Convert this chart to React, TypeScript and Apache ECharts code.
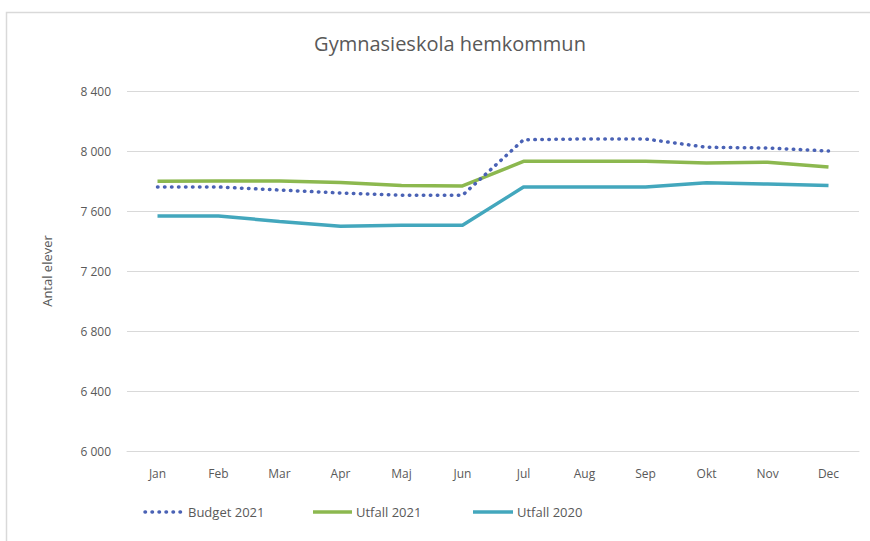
import React, { useEffect, useRef } from "react";
import * as echarts from "echarts";

const months = ["Jan", "Feb", "Mar", "Apr", "Maj", "Jun", "Jul", "Aug", "Sep", "Okt", "Nov", "Dec"];
const budget2021 = [7760, 7760, 7740, 7720, 7705, 7705, 8075, 8080, 8080, 8025, 8020, 8000];
const utfall2021 = [7798, 7800, 7800, 7790, 7770, 7767, 7931, 7931, 7931, 7920, 7925, 7893];
const utfall2020 = [7567, 7567, 7530, 7498, 7505, 7505, 7760, 7760, 7760, 7789, 7780, 7770];
const seriesNames = ["Budget 2021", "Utfall 2021", "Utfall 2020"];

const FONT = "'Open Sans', 'Noto Sans', sans-serif";
const C_BUDGET = "#4a62b5";
const C_U21 = "#8cb84f";
const C_U20 = "#43a7bd";
const DOT: number[] = [0.5, 6.5];

function fmt(v: number): string {
  const s = String(Math.round(v));
  return s.replace(/\B(?=(\d{3})+(?!\d))/g, " ");
}

function legendItem(x0: number, x1: number, y: number, color: string, dash: number[] | null, label: string) {
  return [
    {
      type: "line",
      shape: { x1: x0, y1: y, x2: x1, y2: y },
      style: dash
        ? { stroke: color, lineWidth: 3.5, lineDash: dash, lineCap: "round" }
        : { stroke: color, lineWidth: 3.5 },
      silent: true,
    },
    {
      type: "text",
      x: x1 + 4,
      y: y,
      style: {
        text: label,
        fill: "#595959",
        font: `13px ${FONT}`,
        textVerticalAlign: "middle",
        verticalAlign: "middle",
      },
      silent: true,
    },
  ];
}

export default function App() {
  const ref = useRef<HTMLDivElement>(null);
  useEffect(() => {
    document.body.style.margin = "0";
    const chart = echarts.init(ref.current!, undefined, { renderer: "svg" });
    const ly = 512;
    chart.setOption({
      animation: false,
      backgroundColor: "#ffffff",
      textStyle: { fontFamily: FONT },
      graphic: [
        {
          type: "rect",
          shape: { x: 6.5, y: 12.5, width: 900, height: 600 },
          style: { fill: "none", stroke: "#d9d9d9", lineWidth: 1.5 },
          silent: true,
          z: -10,
        },
        ...legendItem(145, 184, ly, C_BUDGET, DOT, seriesNames[0]),
        ...legendItem(313, 352, ly, C_U21, null, seriesNames[1]),
        ...legendItem(473, 513, ly, C_U20, null, seriesNames[2]),
      ],
      title: {
        text: "Gymnasieskola hemkommun",
        left: 445,
        top: 28,
        textAlign: "center",
        textStyle: { fontFamily: FONT, fontSize: 20, fontWeight: "normal", color: "#595959" },
      },
      grid: { left: 127, right: 11, top: 91, bottom: 90, containLabel: false },
      xAxis: {
        type: "category",
        data: months,
        boundaryGap: true,
        axisLine: { show: true, lineStyle: { color: "#d9d9d9", width: 1 } },
        axisTick: { show: false },
        axisLabel: { color: "#595959", fontSize: 12, margin: 16, fontFamily: FONT },
      },
      yAxis: {
        type: "value",
        min: 6000,
        max: 8400,
        interval: 400,
        name: "Antal elever",
        nameLocation: "middle",
        nameGap: 74,
        nameRotate: 90,
        nameTextStyle: { color: "#595959", fontSize: 13, fontFamily: FONT },
        axisLine: { show: false },
        axisTick: { show: false },
        splitLine: { lineStyle: { color: "#d9d9d9", width: 1 } },
        axisLabel: {
          color: "#595959",
          fontSize: 12,
          margin: 16,
          fontFamily: FONT,
          formatter: (v: number) => fmt(v),
        },
      },
      series: [
        {
          name: seriesNames[0],
          type: "line",
          data: budget2021,
          symbol: "none",
          lineStyle: { color: C_BUDGET, width: 3.5, type: DOT, cap: "round" },
          itemStyle: { color: C_BUDGET },
          z: 4,
        },
        {
          name: seriesNames[1],
          type: "line",
          data: utfall2021,
          symbol: "none",
          lineStyle: { color: C_U21, width: 3.5 },
          itemStyle: { color: C_U21 },
          z: 3,
        },
        {
          name: seriesNames[2],
          type: "line",
          data: utfall2020,
          symbol: "none",
          lineStyle: { color: C_U20, width: 3.5 },
          itemStyle: { color: C_U20 },
          z: 3,
        },
      ],
    });
    return () => chart.dispose();
  }, []);
  return <div ref={ref} style={{ width: 870, height: 541 }} />;
}
